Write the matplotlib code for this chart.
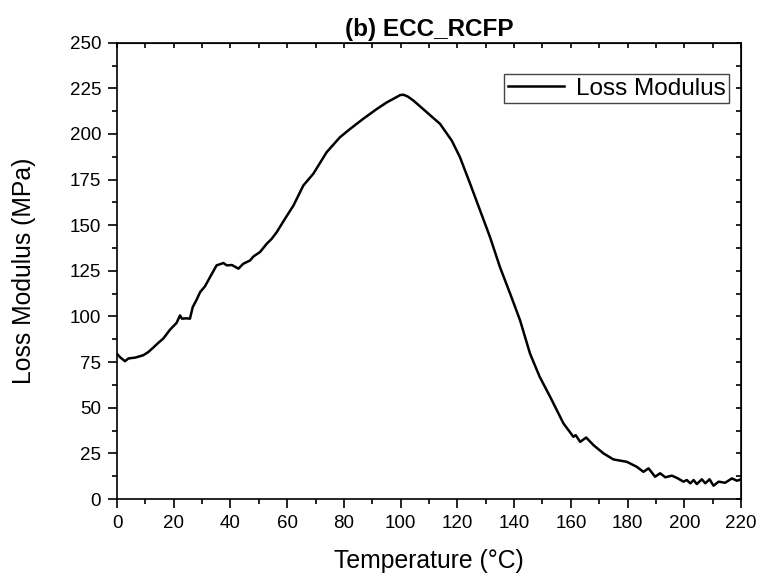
import matplotlib
matplotlib.use("Agg")
import matplotlib.pyplot as plt
from matplotlib.ticker import MultipleLocator

plt.rcParams['font.family'] = ['Liberation Sans', 'DejaVu Sans']

# temperature (C) and loss modulus (MPa)
temp = [0, 1.2, 2.8, 4, 6.5, 9.3, 11, 12.8, 14.5, 16.3, 18.7, 21, 22.2, 22.9, 24.5, 25.7,
        26.7, 28, 29.3, 31, 32.8, 35.1, 37.5, 38.7, 40.5, 42.8, 44.5, 46.9, 48.1, 50.4,
        52.8, 54.5, 56.3, 59.2, 62.2, 65.7, 69.2, 73.9, 78.6, 82.2, 86.8, 91.6, 95.1,
        97.5, 99.8, 101, 102.5, 104.5, 109.2, 113.9, 118, 120.9, 124.5, 128, 131.5,
        135, 138.6, 142.1, 145.6, 149, 152.7, 157.4, 160.9, 161.7, 163.3, 165.4, 168,
        171.5, 175, 179.7, 183.2, 185.6, 187.4, 189.7, 191.5, 193.3, 195.6, 197.5,
        199.7, 200.9, 202.1, 203.3, 204.4, 206.2, 207.4, 208.9, 210.3, 212.1, 214.4,
        216.8, 218.6, 220]
loss = [79.5, 77.5, 75.5, 77, 77.5, 78.8, 80.5, 83, 85.5, 87.9, 92.8, 96.5, 100.6, 98.8, 99, 98.8,
        105.2, 109, 113.4, 116.5, 121.6, 128, 129.3, 128, 128.2, 126.2, 128.9, 130.7, 132.9, 135.3,
        139.9, 142.5, 146.2, 153.5, 160.8, 171.8, 178.2, 190, 198.2, 202.8, 208.3, 213.7, 217.3,
        219.3, 221.3, 221.5, 220.5, 218.3, 211.9, 205.5, 196.4, 187.3, 172.7, 158.1, 143.5,
        127.1, 112.5, 97.9, 79.7, 67, 56, 41.4, 34.1, 35, 31.3, 33.7, 29.5,
        25, 21.7, 20.4, 17.7, 14.9, 16.8, 12.2, 14.1, 11.9, 12.8, 11.5,
        9.5, 10.4, 8.6, 10.4, 8.2, 10.8, 8.6, 10.8, 7.3, 9.5, 8.9,
        11.3, 10, 10.8]

fig = plt.figure(figsize=(7.58, 5.81), dpi=100)
ax = fig.add_axes([0.1544, 0.1411, 0.8232, 0.7854])

ax.plot(temp, loss, color='black', lw=1.8, label='Loss Modulus')

ax.set_xlim(0, 220)
ax.set_ylim(0, 250)
ax.xaxis.set_major_locator(MultipleLocator(20))
ax.xaxis.set_minor_locator(MultipleLocator(10))
ax.yaxis.set_major_locator(MultipleLocator(25))
ax.yaxis.set_minor_locator(MultipleLocator(12.5))
ax.tick_params(which='major', direction='out', length=6.5, width=1.2, labelsize=13.5, pad=5)
ax.tick_params(which='minor', direction='out', length=3.5, width=1.2)
for s in ax.spines.values():
    s.set_linewidth(1.2)

# inward ticks on top and right, no labels
top = ax.secondary_xaxis('top')
top.xaxis.set_major_locator(MultipleLocator(10))
top.tick_params(direction='in', length=3.5, width=1.2, labeltop=False)
right = ax.secondary_yaxis('right')
right.yaxis.set_major_locator(MultipleLocator(12.5))
right.tick_params(direction='in', length=3.5, width=1.2, labelright=False)

ax.set_xlabel('Temperature (°C)', fontsize=17.8, labelpad=12)
ax.set_ylabel('Loss Modulus (MPa)', fontsize=17.8, labelpad=24)
ax.set_title('(b) ECC_RCFP', fontsize=17.5, fontweight='bold', pad=5)

leg = ax.legend(loc='upper right', bbox_to_anchor=(0.981, 0.931), fontsize=17.5,
                fancybox=False, framealpha=1, edgecolor='#444444',
                handlelength=2.3, handletextpad=0.5, borderpad=0.15, borderaxespad=0)
leg.get_frame().set_linewidth(1.0)

fig.savefig('out.png', dpi=100)
